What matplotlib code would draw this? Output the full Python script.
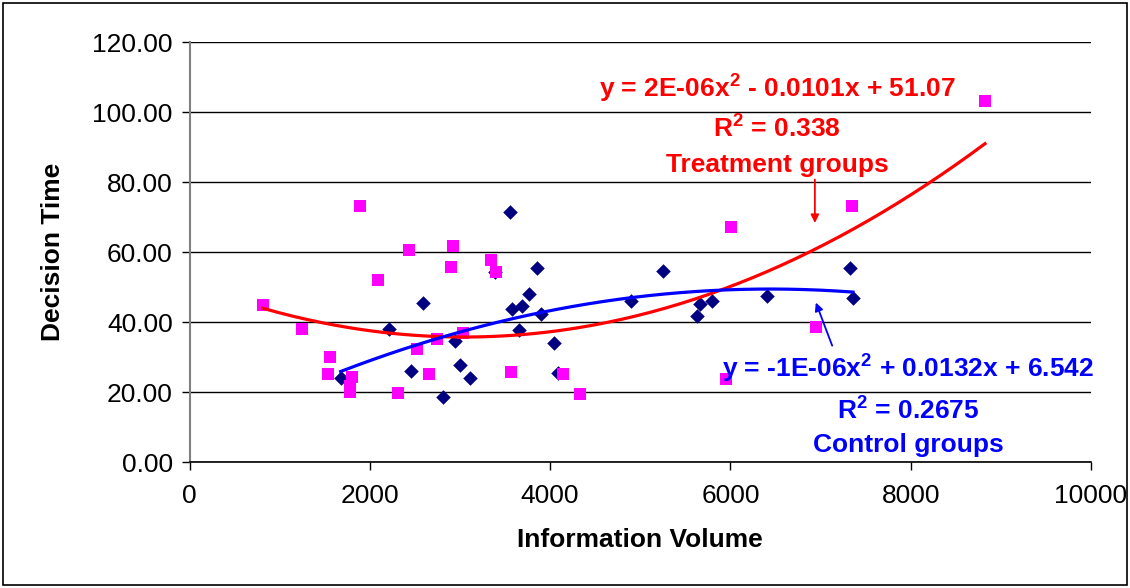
import numpy as np
import matplotlib
matplotlib.use("Agg")
import matplotlib.pyplot as plt
from matplotlib.patches import Rectangle

plt.rcParams['font.family'] = ['Liberation Sans', 'DejaVu Sans']
plt.rcParams['mathtext.fontset'] = 'custom'
plt.rcParams['mathtext.rm'] = 'Liberation Sans'
plt.rcParams['mathtext.bf'] = 'Liberation Sans:bold'

# Treatment groups (magenta squares)
treat_x = [812, 1245, 1891, 1559, 1540, 1799, 1780, 1780, 2095, 2317, 2435, 2524,
           2660, 2749, 2919, 2901, 3030, 3344, 3400, 3566, 4147, 4332, 6007, 5951,
           8824, 7352, 6946]
treat_y = [44.8, 38.1, 73.1, 29.9, 25.2, 24.2, 21.7, 20.0, 52.0, 19.8, 60.6, 32.2,
           25.2, 35.1, 61.6, 55.8, 37.0, 57.7, 54.4, 25.6, 25.1, 19.3, 67.2, 23.6,
           103.2, 73.1, 38.6]

# Control groups (navy diamonds)
ctrl_x = [1677, 2217, 2594, 2457, 2816, 2945, 3001, 3112, 3555, 3389, 3858, 3766,
          3574, 3688, 3899, 3651, 4043, 4091, 4897, 5256, 5663, 5626, 5796, 6402,
          7323, 7360]
ctrl_y = [23.9, 37.9, 45.5, 25.9, 18.5, 34.5, 27.8, 23.9, 71.3, 54.4, 55.5, 47.9,
          43.6, 44.7, 42.2, 37.8, 34.0, 25.4, 46.0, 54.7, 45.1, 41.7, 46.0, 47.4,
          55.5, 46.9]

y_ticks = [0, 20, 40, 60, 80, 100, 120]
x_ticks = [0, 2000, 4000, 6000, 8000, 10000]

fig = plt.figure(figsize=(11.3, 5.88), dpi=100)
ax = fig.add_axes([189.5/1130, 1-462/588, (1091-189.5)/1130, (462-42)/588])

# trend lines (2nd-order polynomial fits)
ct = np.polyfit(treat_x, treat_y, 2)
cc = np.polyfit(ctrl_x, ctrl_y, 2)
xt = np.linspace(min(treat_x), max(treat_x), 200)
xc = np.linspace(min(ctrl_x), max(ctrl_x), 200)

ax.scatter(ctrl_x, ctrl_y, marker='D', s=55, color='#000080', zorder=3, linewidths=0)
ax.scatter(treat_x, treat_y, marker='s', s=80, color='#FF00FF', zorder=3, linewidths=0)
ax.plot(xt, np.polyval(ct, xt), color='#FF0000', lw=2.3, zorder=4)
ax.plot(xc, np.polyval(cc, xc), color='#0000FF', lw=2.3, zorder=4)

ax.set_xlim(0, 10000)
ax.set_ylim(0, 120)
ax.set_xticks(x_ticks)
ax.set_yticks(y_ticks)
ax.set_yticklabels([f"{v:.2f}" for v in y_ticks])
ax.tick_params(axis='both', labelsize=19, length=6, direction='out', width=1)
ax.tick_params(axis='x', pad=10)
ax.tick_params(axis='y', pad=6)
ax.grid(axis='y', color='black', lw=1)
ax.set_axisbelow(True)
for s in ['top', 'right']:
    ax.spines[s].set_visible(False)
ax.spines['left'].set_color('#808080')
ax.spines['left'].set_linewidth(1.5)
ax.spines['bottom'].set_color('black')
ax.spines['bottom'].set_linewidth(1.2)

ax.set_xlabel('Information Volume', fontsize=19, fontweight='bold', labelpad=14)
ax.set_ylabel('Decision Time', fontsize=19, fontweight='bold', labelpad=20)

red = '#FF0000'
blue = '#0000FF'
fs = 19
ax.text(6517, 106.9, r'y = 2E-06x$^{\mathbf{2}}$ - 0.0101x + 51.07', color=red,
        fontsize=fs, fontweight='bold', ha='center', va='center')
ax.text(6517, 95.4, r'R$^{\mathbf{2}}$ = 0.338', color=red,
        fontsize=fs, fontweight='bold', ha='center', va='center')
ax.text(6517, 84.9, 'Treatment groups', color=red,
        fontsize=fs, fontweight='bold', ha='center', va='center')
ax.annotate('', xy=(6937, 67.5), xytext=(6937, 81.5),
            arrowprops=dict(arrowstyle='-|>', color=red, lw=1.3, mutation_scale=12))

ax.text(7966, 26.9, r'y = -1E-06x$^{\mathbf{2}}$ + 0.0132x + 6.542', color=blue,
        fontsize=fs, fontweight='bold', ha='center', va='center')
ax.text(7970, 14.9, r'R$^{\mathbf{2}}$ = 0.2675', color=blue,
        fontsize=fs, fontweight='bold', ha='center', va='center')
ax.text(7970, 4.9, 'Control groups', color=blue,
        fontsize=fs, fontweight='bold', ha='center', va='center')
ax.annotate('', xy=(6937, 46.3), xytext=(7140, 32.5),
            arrowprops=dict(arrowstyle='-|>', color=blue, lw=1.3, mutation_scale=12))

fig.patches.append(Rectangle((3/1130, 3/588), 1-6/1130, 1-6/588, transform=fig.transFigure,
                             fill=False, edgecolor='black', lw=1.2))

fig.savefig('out.png', dpi=100)
